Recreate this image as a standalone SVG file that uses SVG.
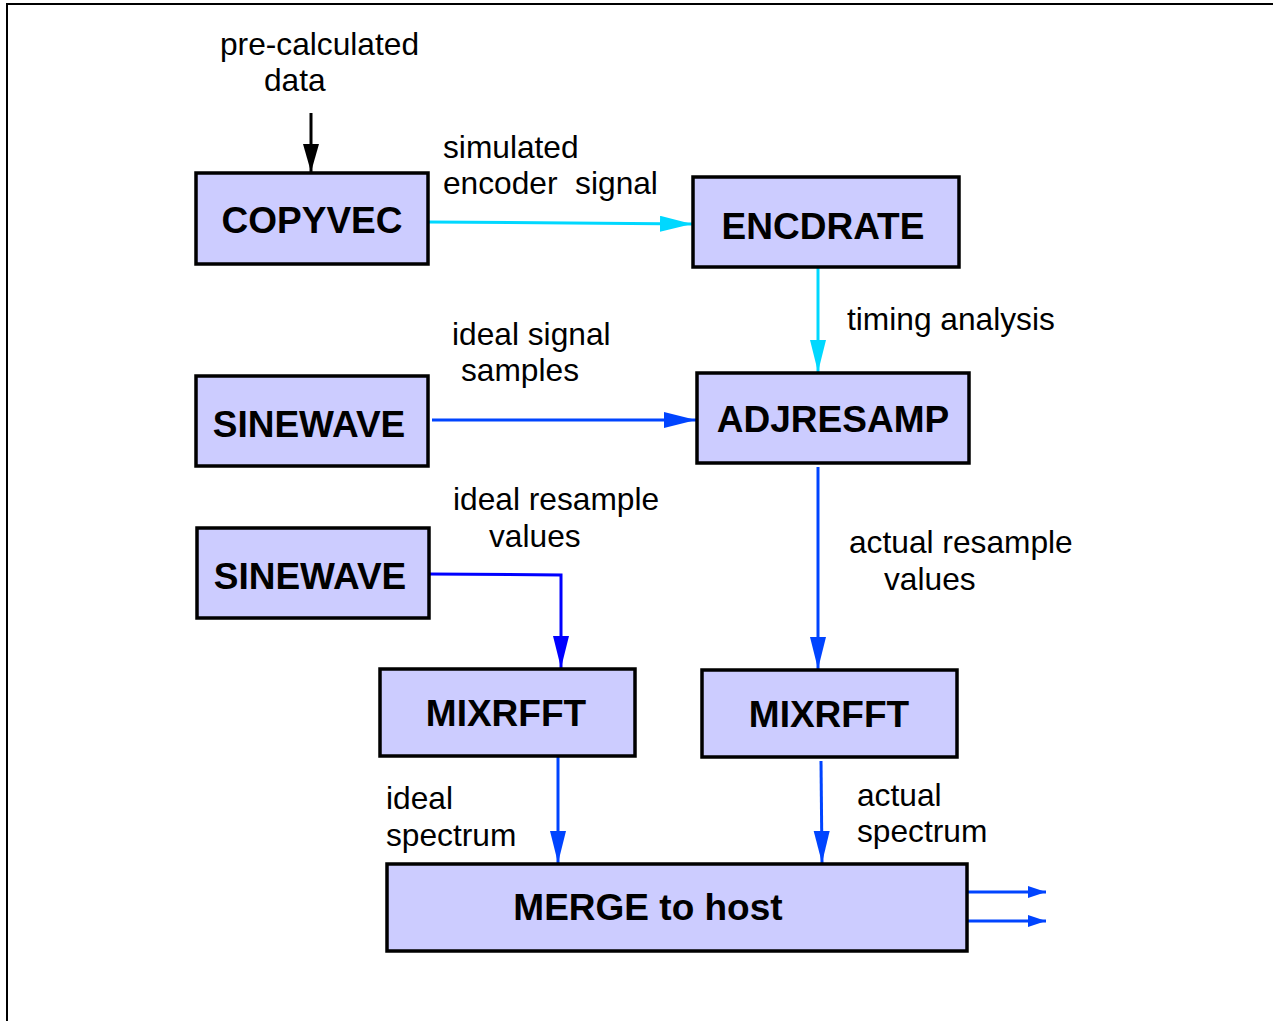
<svg xmlns="http://www.w3.org/2000/svg" width="1273" height="1021" viewBox="0 0 1273 1021">
<defs>
<style>
.box{fill:#ccccff;stroke:#000;stroke-width:3.5}
.bl{font-family:"Liberation Sans",Arial,sans-serif;font-weight:bold;font-size:37px;fill:#000;text-anchor:middle}
.lb{font-family:"Liberation Sans",Arial,sans-serif;font-size:31.7px;fill:#000}
.cy{stroke:#00d8ff;stroke-width:3;fill:none}
.bu{stroke:#0044ff;stroke-width:3;fill:none}
.bp{stroke:#0000ff;stroke-width:3;fill:none}
.bk{stroke:#000;stroke-width:3;fill:none}
</style>
<marker id="hk" markerUnits="userSpaceOnUse" markerWidth="30" markerHeight="20" refX="28" refY="8" orient="auto"><path d="M0,0 L28,8 L0,16 Z" fill="#000"/></marker>
<marker id="hc" markerUnits="userSpaceOnUse" markerWidth="34" markerHeight="20" refX="32" refY="8" orient="auto"><path d="M0,0 L32,8 L0,16 Z" fill="#00d8ff"/></marker>
<marker id="hb" markerUnits="userSpaceOnUse" markerWidth="34" markerHeight="20" refX="32" refY="8" orient="auto"><path d="M0,0 L32,8 L0,16 Z" fill="#0044ff"/></marker>
<marker id="hp" markerUnits="userSpaceOnUse" markerWidth="34" markerHeight="20" refX="32" refY="8" orient="auto"><path d="M0,0 L32,8 L0,16 Z" fill="#0000ff"/></marker>
<marker id="hs" markerUnits="userSpaceOnUse" markerWidth="30" markerHeight="16" refX="18" refY="6" orient="auto"><path d="M0,0 L18,6 L0,12 Z" fill="#0044ff"/></marker>
</defs>
<rect x="0" y="0" width="1273" height="1021" fill="#fff"/>
<path d="M7,1021 L7,4 L1273,4" fill="none" stroke="#000" stroke-width="2"/>

<g id="connectors">
<line class="bk" x1="311" y1="113" x2="311" y2="172" marker-end="url(#hk)"/>
<line class="cy" x1="428" y1="222" x2="692" y2="224" marker-end="url(#hc)"/>
<line class="cy" x1="818" y1="267" x2="818" y2="372" marker-end="url(#hc)"/>
<line class="bu" x1="432" y1="420" x2="696" y2="420" marker-end="url(#hb)"/>
<polyline class="bp" points="429,574 561,575 561,668" marker-end="url(#hp)"/>
<line class="bu" x1="818" y1="467" x2="818" y2="669" marker-end="url(#hb)"/>
<line class="bu" x1="558" y1="756" x2="558" y2="863" marker-end="url(#hb)"/>
<line class="bu" x1="821" y1="761" x2="822" y2="863" marker-end="url(#hb)"/>
<line class="bu" x1="967" y1="892" x2="1046" y2="892" marker-end="url(#hs)"/>
<line class="bu" x1="967" y1="921" x2="1046" y2="921" marker-end="url(#hs)"/>
</g>

<g id="labels">
<text class="lb" x="220" y="55">pre-calculated</text>
<text class="lb" x="264" y="91">data</text>
<text class="lb" x="443" y="158">simulated</text>
<text class="lb" x="443" y="194" xml:space="preserve">encoder  signal</text>
<text class="lb" x="847" y="330">timing analysis</text>
<text class="lb" x="452" y="345">ideal signal</text>
<text class="lb" x="461" y="381">samples</text>
<text class="lb" x="453" y="510">ideal resample</text>
<text class="lb" x="489" y="547">values</text>
<text class="lb" x="849" y="553">actual resample</text>
<text class="lb" x="884" y="590">values</text>
<text class="lb" x="386" y="809">ideal</text>
<text class="lb" x="386" y="846">spectrum</text>
<text class="lb" x="857" y="806">actual</text>
<text class="lb" x="857" y="842">spectrum</text>
</g>

<g id="copyvec"><rect class="box" x="196" y="173" width="232" height="91"/><text class="bl" x="312" y="233">COPYVEC</text></g>
<g id="encdrate"><rect class="box" x="693" y="177" width="266" height="90"/><text class="bl" x="823" y="239">ENCDRATE</text></g>
<g id="sinewave1"><rect class="box" x="196" y="376" width="232" height="90"/><text class="bl" x="309" y="437">SINEWAVE</text></g>
<g id="adjresamp"><rect class="box" x="697" y="373" width="272" height="90"/><text class="bl" x="833" y="432">ADJRESAMP</text></g>
<g id="sinewave2"><rect class="box" x="197" y="528" width="232" height="90"/><text class="bl" x="310" y="589">SINEWAVE</text></g>
<g id="mixrfft1"><rect class="box" x="380" y="669" width="255" height="87"/><text class="bl" x="506" y="726">MIXRFFT</text></g>
<g id="mixrfft2"><rect class="box" x="702" y="670" width="255" height="87"/><text class="bl" x="829" y="727">MIXRFFT</text></g>
<g id="merge"><rect class="box" x="387" y="864" width="580" height="87"/><text class="bl" x="648" y="920">MERGE to host</text></g>
</svg>
